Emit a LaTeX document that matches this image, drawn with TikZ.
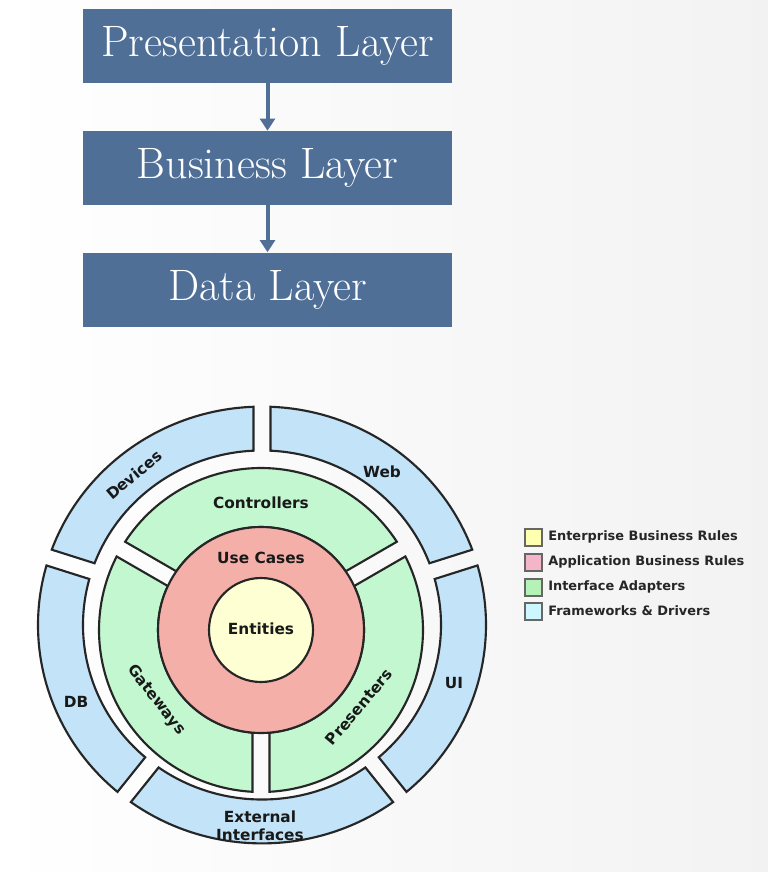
\documentclass[tikz,border=0pt]{standalone}
\usepackage{fontspec}
\newfontfamily\dejavu{DejaVu Sans}
\usetikzlibrary{arrows.meta}

\definecolor{layerblue}{RGB}{79,111,151}
\definecolor{entyellow}{RGB}{255,255,212}
\definecolor{casered}{RGB}{244,175,169}
\definecolor{adaptgreen}{RGB}{194,247,208}
\definecolor{drivblue}{RGB}{194,227,248}
\definecolor{lgyellow}{RGB}{255,255,176}
\definecolor{lgpink}{RGB}{244,181,200}
\definecolor{lggreen}{RGB}{181,242,181}
\definecolor{lgcyan}{RGB}{204,247,252}

% one piece of a ring, cut with a gap of even width
\def\segGap{8.5}
\newcommand{\ringseg}[5]{%
  \pgfmathsetmacro\segOut{asin(\segGap/#2)}%
  \pgfmathsetmacro\segIn{asin(\segGap/#1)}%
  \draw[seg, fill=#5] ({#3+\segOut}:#2) arc[start angle=#3+\segOut, end angle=#4-\segOut, radius=#2]
    -- ({#4-\segIn}:#1) arc[start angle=#4-\segIn, end angle=#3+\segIn, radius=#1] -- cycle;}

\begin{document}
\begin{tikzpicture}[x=0.75pt,y=0.75pt,yscale=-1,xscale=1,
    layer/.style={fill=layerblue, text=white, minimum width=276.75pt, minimum height=55.5pt, inner sep=0pt, font=\fontsize{33}{36}\selectfont},
    flow/.style={draw=layerblue, line width=3pt, -{Triangle[width=11pt,length=9pt]}},
    seg/.style={draw=black!85, line width=1.6pt},
    ringlabel/.style={font=\dejavu\bfseries\fontsize{11.5}{13.5}\selectfont, text=black!90, inner sep=0.75pt, align=center},
    leglabel/.style={font=\dejavu\bfseries\fontsize{9.7}{11}\selectfont, text=black!85, anchor=west, inner sep=0.75pt},
    legbox/.style={draw=black!60, line width=0.9pt}]
        \useasboundingbox (0,0) rectangle (768,872);
        \shade[left color=white, right color=black!5] (0,0) rectangle (768,872);

        %Shape: Rectangle
        \node[layer] (pres) at (267.5,46) {Presentation Layer};
        %Shape: Rectangle
        \node[layer] (bus) at (267.5,168) {Business Layer};
        %Shape: Rectangle
        \node[layer] (data) at (267.5,289.5) {Data Layer};
        %Straight Lines
        \draw[flow] (pres) -- (bus);
        \draw[flow] (bus) -- (data);

        %Shape: Outer ring
        \begin{scope}[shift={(262,625)}, yscale=-0.975]
        \ringseg{179}{224}{18}{90}{drivblue}
        \ringseg{179}{224}{90}{162}{drivblue}
        \ringseg{179}{224}{162}{232}{drivblue}
        \ringseg{179}{224}{232}{308}{drivblue}
        \ringseg{179}{224}{-52}{18}{drivblue}
        \end{scope}
        %Shape: Inner rings
        \begin{scope}[shift={(261,630)}, yscale=-1]
        \ringseg{103}{162}{30}{150}{adaptgreen}
        \ringseg{103}{162}{150}{270}{adaptgreen}
        \ringseg{103}{162}{270}{390}{adaptgreen}
        %Shape: Circle
        \draw[seg, fill=casered] (0,0) circle [radius=103];
        %Shape: Circle
        \draw[seg, fill=entyellow] (0,0) circle [radius=52];
        \end{scope}

        % Text Node
        \node[ringlabel] (ents) at (261,629) {Entities};
        % Text Node
        \node[ringlabel] (cases) at (261,558) {Use Cases};
        % Text Node
        \node[ringlabel] (ctrl) at (261,503) {Controllers};
        % Text Node
        \node[ringlabel, rotate=-52] (gate) at (156,700) {Gateways};
        % Text Node
        \node[ringlabel, rotate=50] (prsn) at (359,707) {Presenters};
        % Text Node
        \node[ringlabel, rotate=40] (dev) at (134,475) {Devices};
        % Text Node
        \node[ringlabel] (web) at (382,472) {Web};
        % Text Node
        \node[ringlabel] (db) at (76,702) {DB};
        % Text Node
        \node[ringlabel] (ui) at (454,683) {UI};
        % Text Node
        \node[ringlabel] (extif) at (260,826) {External\\Interfaces};

        %Shape: Legend
        \draw[legbox, fill=lgyellow] (525,529) rectangle (542,546);
        \draw[legbox, fill=lgpink] (525,554) rectangle (542,571);
        \draw[legbox, fill=lggreen] (525,579) rectangle (542,596);
        \draw[legbox, fill=lgcyan] (525,603) rectangle (542,620);
        % Text Node
        \node[leglabel] (ebr) at (547,537) {Enterprise Business Rules};
        % Text Node
        \node[leglabel] (abr) at (547,562) {Application Business Rules};
        % Text Node
        \node[leglabel] (ia) at (547,587) {Interface Adapters};
        % Text Node
        \node[leglabel] (fd) at (547,611) {Frameworks \& Drivers};
\end{tikzpicture}
\end{document}
